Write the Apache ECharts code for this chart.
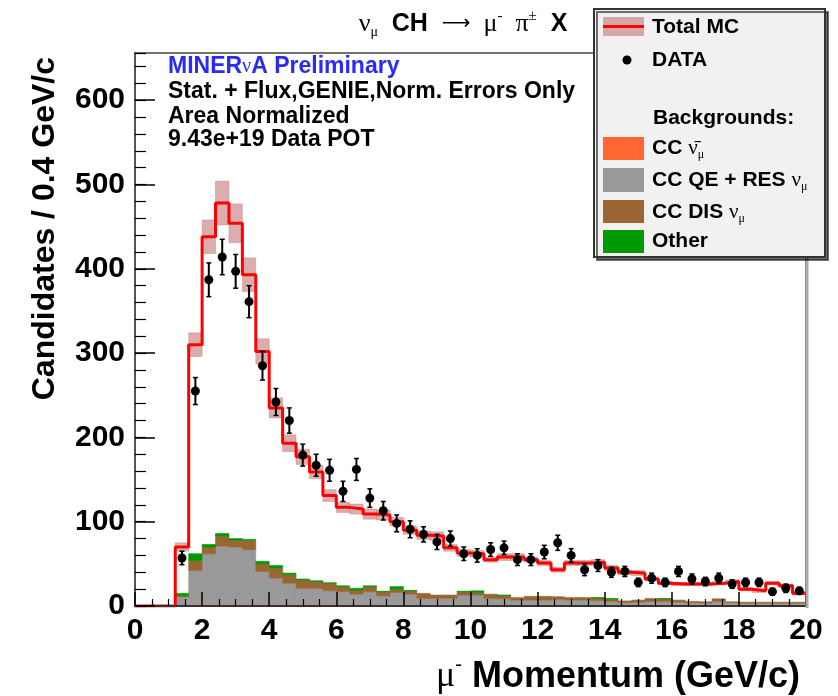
<!DOCTYPE html>
<html><head><meta charset="utf-8">
<script src="https://cdn.jsdelivr.net/npm/echarts@6/dist/echarts.min.js"></script>
<style>html,body{margin:0;padding:0;background:#fff}#c{width:838px;height:696px}</style>
</head><body><div id="c"></div>
<script>
// ---- data (bins of 0.4 GeV/c, lower edges) ----
const binWidth = 0.4;
const binLow = [0,0.4,0.8,1.2,1.6,2.0,2.4,2.8,3.2,3.6,4.0,4.4,4.8,5.2,5.6,6.0,6.4,6.8,7.2,7.6,
  8.0,8.4,8.8,9.2,9.6,10.0,10.4,10.8,11.2,11.6,12.0,12.4,12.8,13.2,13.6,14.0,14.4,14.8,15.2,15.6,
  16.0,16.4,16.8,17.2,17.6,18.0,18.4,18.8,19.2,19.6];
const mcTotal = [0,0,0,70,310,438,478,454,393,302,235,193,177,159,131,117,115,109,108,100,
  90,84,83,69,63,62,55,58,58,55,51,43,51,51,52,45,40,39,32,27,26,26,26,27,29,20,18,27,24,15];
const mcErr = [0,0,0,5,14,20,26,23,20,15,12,10,9,8,7,6,6,6,6,5,
  5,5,5,4,4,4,3,4,4,3,3,3,3,3,3,3,3,3,2,2,2,2,2,2,2,2,2,2,2,2];
const dataVals = [null,null,null,57,255,387,414,397,361,285,242,220,179,167,161,136,162,128,113,98,
  91,85,76,80,62,60,67,69,55,55,64,75,60,43,48,40,41,28,33,28,41,32,29,33,26,28,28,17,21,18];
const dataErr = [null,null,null,8,16,20,21,20,19,17,16,15,13,13,13,12,13,11,11,10,
  10,9,9,9,8,8,8,8,7,7,8,9,8,7,7,6,6,5,6,5,6,6,5,6,5,5,5,4,5,4];
const bgAntiNu = [0,0,0,1,2,2,2,2,2,2,2,2,2,2,2,2,2,2,1.5,1.5,
  1.5,1.5,1.5,1.5,1.5,1.5,1.5,1.5,1.5,1.5,1.5,1.5,1.5,1.5,1.5,1.5,1.5,1.5,1.5,1.5,1.5,1.5,1.5,1.5,1.5,1.5,1.5,1.5,1.5,1.5];
const bgQERes = [0,0,0,10,40,60,69,68,65,39,31,25,19,19,16,15,12,15,10.5,14.5,
  12.5,7.5,7.5,7.5,11.5,11.5,7.5,7,5.5,5.5,5.5,6.5,5.5,5.5,5,4,2.5,3,4,4,3,2.5,2,4,2.5,2,2,2,2,2];
const bgDIS = [0,0,0,1,12,8,12,8,11,9,12,10,10,8,9,6,5,6,5,4,
  4,6,4,4,4,3,5,4,3,4.5,4.5,3,3,3,3,2,2,2.5,3.5,3,2.5,1.5,1.5,3,1,1,1,1,1,1];
const bgOther = [0,0,0,3,8,3,3,2,1,3,3,2,1,1,0.5,1,2,1,0.5,3,
  0.5,0,0,0,0.5,2,0,0.5,0,0,0,0,0,0,0.5,1.5,0,0,0,0.5,0,0,0,0,0,0,0,0,0,0];
const xTicks = [0,2,4,6,8,10,12,14,16,18,20];
const yTicks = [0,100,200,300,400,500,600];

// ---- styles ----
const SANS = '"Liberation Sans", Arial, sans-serif';
const SERIF = '"Liberation Serif", "DejaVu Serif", serif';
const colors = {anti:'#ff6633', qe:'#999999', dis:'#996633', other:'#009900', band:'rgba(190,105,105,0.55)', mc:'#ff0000'};

// ---- build stacked layers ----
const cum = binLow.map(() => 0);
function layer(arr) {
  const out = [];
  binLow.forEach((x, i) => {
    const b = cum[i]; cum[i] += arr[i];
    if (arr[i] > 0) out.push([x, x + binWidth, b, cum[i]]);
  });
  return out;
}
const layAnti = layer(bgAntiNu), layQE = layer(bgQERes), layDIS = layer(bgDIS), layOther = layer(bgOther);

function rectSeries(data, color, z) {
  return {
    type: 'custom', z, silent: true, clip: true, data,
    encode: {x: [0, 1], y: [2, 3]},
    renderItem(params, api) {
      const a = api.coord([api.value(0), api.value(3)]);
      const b = api.coord([api.value(1), api.value(2)]);
      return {type: 'rect', shape: {x: a[0], y: a[1], width: b[0] - a[0], height: b[1] - a[1]},
        style: {fill: color, stroke: color, lineWidth: 0.6}};
    }
  };
}
const bandData = [];
binLow.forEach((x, i) => { if (mcTotal[i] > 0) bandData.push([x, x + binWidth, mcTotal[i] - mcErr[i], mcTotal[i] + mcErr[i]]); });
const mcLine = [];
binLow.forEach((x, i) => { mcLine.push([x, mcTotal[i]]); mcLine.push([x + binWidth, mcTotal[i]]); });
const pts = [];
binLow.forEach((x, i) => { if (dataVals[i] != null) pts.push([x + binWidth / 2, dataVals[i], dataErr[i]]); });

const chart = echarts.init(document.getElementById('c'), null, {renderer: 'canvas'});
const axisFont = {fontFamily: SANS, fontWeight: 'bold', fontSize: 30, color: '#000'};

function rt(x, y, text, rich, align) {
  return {type: 'text', x, y, z: 101, style: {text, rich, align: align || 'left', verticalAlign: 'middle'}};
}
const legBold = {fontFamily: SANS, fontWeight: 'bold', fontSize: 21, fill: '#000', lineHeight: 26};
const legRich = {b: legBold, n: {fontFamily: SERIF, fontSize: 21, fill: '#000', lineHeight: 26},
  sub: {fontFamily: SERIF, fontSize: 12, fill: '#000', verticalAlign: 'bottom', lineHeight: 26}};
const boxBold = {fontFamily: SANS, fontWeight: 'bold', fontSize: 23, fill: '#000'};

chart.setOption({
  animation: false,
  backgroundColor: '#fff',
  grid: {left: 135, right: 32, top: 53, bottom: 90, show: true, borderColor: '#444', borderWidth: 1.5, outerBoundsMode: 'none'},
  xAxis: {
    type: 'value', min: 0, max: 20, interval: 2, z: 10,
    axisLine: {show: true, onZero: false, lineStyle: {color: '#333', width: 2}},
    axisTick: {show: true, inside: true, length: 14, lineStyle: {color: '#000', width: 1.5}},
    minorTick: {show: true, splitNumber: 4, length: 7, lineStyle: {color: '#000', width: 1.2}},
    splitLine: {show: false},
    axisLabel: Object.assign({margin: 10, formatter: v => xTicks.includes(v) ? String(v) : ''}, axisFont)
  },
  yAxis: [{
    type: 'value', min: 0, max: 656, interval: 100, z: 10,
    axisLine: {show: true, lineStyle: {color: '#555', width: 2}},
    axisTick: {show: true, inside: true, length: 20, lineStyle: {color: '#000', width: 1.5}},
    splitLine: {show: false},
    axisLabel: Object.assign({margin: 10, showMaxLabel: false, formatter: v => yTicks.includes(v) ? String(v) : ''}, axisFont)
  }, {
    type: 'value', min: 0, max: 656, interval: 20, position: 'left', z: 10,
    axisLine: {show: false},
    axisTick: {show: true, inside: true, length: 11, lineStyle: {color: '#000', width: 1.2}},
    splitLine: {show: false}, axisLabel: {show: false}
  }],
  series: [
    rectSeries(layAnti, colors.anti, 2),
    rectSeries(layQE, colors.qe, 2),
    rectSeries(layDIS, colors.dis, 2),
    rectSeries(layOther, colors.other, 2),
    rectSeries(bandData, colors.band, 3),
    {type: 'line', data: mcLine, z: 4, symbol: 'none', silent: true, clip: true,
      lineStyle: {color: colors.mc, width: 3}},
    {type: 'custom', z: 5, silent: true, clip: true, data: pts, encode: {x: 0, y: 1},
      renderItem(params, api) {
        const c = api.coord([api.value(0), api.value(1)]);
        const lo = api.coord([api.value(0), api.value(1) - api.value(2)]);
        const hi = api.coord([api.value(0), api.value(1) + api.value(2)]);
        return {type: 'group', children: [
          {type: 'line', shape: {x1: c[0], y1: lo[1], x2: c[0], y2: hi[1]}, style: {stroke: '#000', lineWidth: 2}},
          {type: 'line', shape: {x1: c[0] - 2.5, y1: lo[1], x2: c[0] + 2.5, y2: lo[1]}, style: {stroke: '#000', lineWidth: 1.5}},
          {type: 'line', shape: {x1: c[0] - 2.5, y1: hi[1], x2: c[0] + 2.5, y2: hi[1]}, style: {stroke: '#000', lineWidth: 1.5}},
          {type: 'circle', shape: {cx: c[0], cy: c[1], r: 4.5}, style: {fill: '#000'}}
        ]};
      }}
  ],
  graphic: [
    // right frame shadow
    {type: 'line', z: 50, shape: {x1: 807, y1: 53, x2: 807, y2: 608}, style: {stroke: '#aaa', lineWidth: 3}},
    // title
    rt(463, 24, '{n|ν}{sub|μ}{b|  CH  }{a|⟶}{n|  μ}{sup|-}{n|  π}{sup|±}{b|  X}', {
      b: {fontFamily: SANS, fontWeight: 'bold', fontSize: 25, fill: '#000', lineHeight: 30},
      n: {fontFamily: SERIF, fontSize: 26, fill: '#000', lineHeight: 30},
      a: {fontFamily: '"DejaVu Sans", sans-serif', fontSize: 20, fill: '#000', lineHeight: 30},
      sub: {fontFamily: SERIF, fontSize: 14, fill: '#000', verticalAlign: 'bottom', lineHeight: 30},
      sup: {fontFamily: SERIF, fontSize: 15, fill: '#000', verticalAlign: 'top', lineHeight: 30}
    }, 'center'),
    // info box
    rt(168, 67, '{b|MINER}{n|ν}{b|A Preliminary}', {
      b: Object.assign({}, boxBold, {fill: '#2a2aff'}), n: {fontFamily: SERIF, fontSize: 20, fill: '#2a2aff'}}),
    rt(168, 92, '{b|Stat. + Flux,GENIE,Norm. Errors Only}', {b: boxBold}),
    rt(168, 117, '{b|Area Normalized}', {b: boxBold}),
    rt(168, 140, '{b|9.43e+19 Data POT}', {b: boxBold}),
    // axis titles
    rt(800, 677, '{n|μ}{sup|-}{b| Momentum (GeV/c)}', {
      b: {fontFamily: SANS, fontWeight: 'bold', fontSize: 36, fill: '#000', lineHeight: 44},
      n: {fontFamily: SERIF, fontSize: 36, fill: '#000', lineHeight: 44},
      sup: {fontFamily: SERIF, fontSize: 20, fill: '#000', verticalAlign: 'top', lineHeight: 44}
    }, 'right'),
    {type: 'text', x: 45, y: 57, rotation: Math.PI / 2, z: 101,
      style: {text: 'Candidates / 0.4 GeV/c', align: 'right', verticalAlign: 'middle',
        font: 'bold 32px ' + SANS, fill: '#000'}},
    // legend
    {type: 'rect', z: 100, shape: {x: 594, y: 9, width: 231, height: 248},
      style: {fill: '#f1f1f1', stroke: '#333', lineWidth: 2, shadowColor: 'rgba(0,0,0,0.55)', shadowOffsetX: 3, shadowOffsetY: 3, shadowBlur: 0}},
    {type: 'rect', z: 101, shape: {x: 603, y: 17, width: 41, height: 19}, style: {fill: colors.band}},
    {type: 'line', z: 102, shape: {x1: 603, y1: 26.5, x2: 644, y2: 26.5}, style: {stroke: colors.mc, lineWidth: 3}},
    rt(652, 27, '{b|Total MC}', legRich),
    {type: 'circle', z: 101, shape: {cx: 627, cy: 60, r: 4.5}, style: {fill: '#000'}},
    rt(652, 60, '{b|DATA}', legRich),
    rt(653, 118, '{b|Backgrounds:}', legRich),
    {type: 'rect', z: 101, shape: {x: 603, y: 137, width: 41, height: 23}, style: {fill: colors.anti}},
    rt(652, 148, '{b|CC }{n|ν̄}{sub|μ}', legRich),
    {type: 'rect', z: 101, shape: {x: 603, y: 168, width: 41, height: 24}, style: {fill: colors.qe}},
    rt(652, 180, '{b|CC QE + RES }{n|ν}{sub|μ}', legRich),
    {type: 'rect', z: 101, shape: {x: 603, y: 200, width: 41, height: 23}, style: {fill: colors.dis}},
    rt(652, 212, '{b|CC DIS }{n|ν}{sub|μ}', legRich),
    {type: 'rect', z: 101, shape: {x: 603, y: 230, width: 41, height: 23}, style: {fill: colors.other}},
    rt(652, 241, '{b|Other}', legRich)
  ]
});
</script></body></html>
